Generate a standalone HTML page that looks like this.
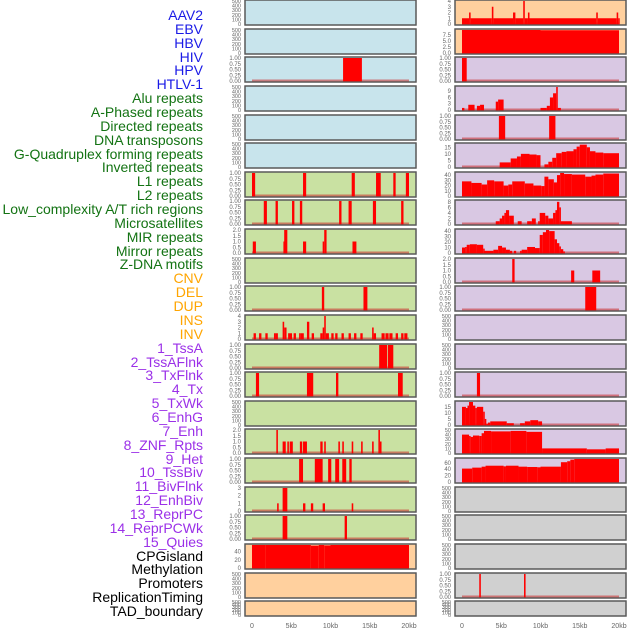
<!DOCTYPE html>
<html><head><meta charset="utf-8">
<style>
html,body{margin:0;padding:0;background:#fff;}
#wrap{position:relative;width:630px;height:630px;overflow:hidden;font-family:"Liberation Sans",sans-serif;}
.lab{position:absolute;right:427px;font-size:14px;line-height:14px;white-space:nowrap;}
</style></head>
<body>
<div id="wrap">
<svg id="svg" width="630" height="630" style="position:absolute;left:0;top:0"></svg>
</div>
<script>
// ---- labels ----
const labelNames = ["AAV2","EBV","HBV","HIV","HPV","HTLV-1","Alu repeats","A-Phased repeats","Directed repeats","DNA transposons","G-Quadruplex forming repeats","Inverted repeats","L1 repeats","L2 repeats","Low_complexity A/T rich regions","Microsatellites","MIR repeats","Mirror repeats","Z-DNA motifs","CNV","DEL","DUP","INS","INV","1_TssA","2_TssAFlnk","3_TxFlnk","4_Tx","5_TxWk","6_EnhG","7_Enh","8_ZNF_Rpts","9_Het","10_TssBiv","11_BivFlnk","12_EnhBiv","13_ReprPC","14_ReprPCWk","15_Quies","CPGisland","Methylation","Promoters","ReplicationTiming","TAD_boundary"];
const labelGroups = [6,13,5,15,5];
const groupColors = ["#1a1ae6","#137313","#ffa500","#9b30e8","#000000"];

// ---- panel data (start kb, end kb, value) ----
const L2 = [[11.6,14.0,1]];
const L6 = [[0,0.4,1],[6.5,6.9,1],[12.7,13.1,1],[15.8,16.4,1],[18.0,18.3,1],[19.6,20,1]];
const L7 = [[1.5,1.9,1],[3.0,3.3,1],[5.1,5.4,1],[6.1,6.4,1],[11.1,11.4,1],[12.3,12.7,1],[15.4,15.8,1],[19.0,19.3,1]];
const L8 = [[0.1,0.5,1],[4.0,4.1,1],[4.1,4.5,2],[6.5,6.9,1],[9.0,9.2,1],[9.2,9.5,2],[12.8,13.3,1]];
const L10 = [[8.9,9.2,1],[14.2,14.7,1]];
const L11 = [[0.2,0.5,1],[0.9,1.2,1],[1.7,2.0,1],[2.8,3.0,1],[3.0,3.3,1],[3.9,4.1,3],[4.1,4.4,2],[4.6,5.1,1],[5.3,5.6,1],[6.0,6.2,1],[6.2,6.6,1],[7.0,7.3,3],[7.6,7.9,1],[8.7,9.0,1],[9.0,9.2,2],[9.2,9.4,4],[9.4,9.8,1],[10.1,10.4,1],[10.6,10.9,1],[11.4,11.7,1],[12.3,12.6,1],[13.0,13.3,1],[13.8,14.1,1],[15.3,15.5,2],[15.5,15.8,1],[16.5,16.9,1],[17.0,17.4,1],[17.5,17.9,1],[18.3,18.6,1],[19.0,19.3,1],[19.4,19.8,1]];
const L12 = [[16.2,17.2,1],[17.3,18.0,1]];
const L13 = [[0.5,0.9,1],[7.0,7.8,1],[10.7,11.0,1],[18.6,19.2,1]];
const L15 = [[3.1,3.3,2],[3.9,4.3,1],[4.5,4.7,1],[4.8,5.2,1],[6.1,6.4,1],[6.5,7.0,1],[8.7,9.0,1],[9.2,9.4,1],[11.0,11.2,1],[11.5,11.7,1],[12.7,12.9,1],[13.9,14.1,1],[15.3,15.5,1],[16.1,16.3,2],[16.3,16.5,1]];
const L16 = [[6.0,6.5,1],[8.0,9.0,1],[9.7,10.1,1],[10.6,11.1,1],[11.5,12.0,1],[12.4,12.7,1]];
const L17 = [[3.2,3.4,1],[3.9,4.5,3],[6.5,6.8,1],[7.5,7.8,1],[9.0,9.3,1],[12.7,12.9,1]];
const L18 = [[3.9,4.5,1],[11.8,12.1,1]];
const L19 = [[0,1.7,57],[1.7,7.5,56],[7.5,8.5,54.5],[8.5,9.2,56],[9.2,10.0,55],[10.0,20,56]];
const R0 = [[0,0.9,1],[0.9,1.1,2],[1.1,3.8,1],[3.8,4.0,3],[4.0,6.5,1],[6.5,6.8,2],[6.8,7.8,1],[7.8,8.0,4],[8.0,8.4,1],[8.4,8.6,2],[8.6,17.1,1],[17.1,17.3,2],[17.3,19.7,1],[19.7,19.9,2],[19.9,20,1]];
const R1 = [[0,10,10],[10,20,9.5]];
const R2 = [[0,0.6,1]];
const R3 = [[0,0.3,1],[0.8,1.6,2.5],[1.9,2.3,2],[2.3,2.8,2.5],[4.3,4.6,4],[4.6,5.3,5],[10,10.8,1],[10.8,11.2,2],[11.2,11.6,6],[11.6,12.0,8],[12.0,12.2,11],[12.2,12.6,1]];
const R4 = [[4.7,5.5,1],[11.1,11.9,1]];
const R5 = [[4.8,6.2,3.5],[6.2,7,6.5],[7,7.5,8],[7.5,8.6,10],[8.6,9.5,9.5],[9.5,10,9],[10.5,11,2],[11,11.5,4],[11.5,12,7],[12,12.7,10.5],[12.7,13.3,11.5],[13.3,14.2,12],[14.2,14.6,13.5],[14.6,15,15.5],[15,15.9,17],[15.9,16.3,15],[16.3,17,12],[17,18,11],[18,20,10.5]];
const R6 = [[0,1.2,28],[1.2,2.5,25],[2.5,3.2,22],[3.2,4.1,30],[4.1,5.3,28],[5.3,5.9,20],[5.9,6.4,22],[6.4,8,28],[8,9.1,24],[9.1,10.1,20],[10.1,10.5,19],[10.5,11,37],[11,11.7,32],[11.7,12.1,26],[12.1,12.5,40],[12.5,13,44],[13,14,42],[14,15.7,41],[15.7,16.5,37],[16.5,17,39],[17,18,41],[18,20,43]];
const R7 = [[4.3,4.8,1],[4.8,5.1,2],[5.1,5.4,3],[5.4,5.6,4],[5.6,6.0,5],[6.0,6.6,3],[7.1,7.6,1],[8.3,8.9,1],[8.9,9.4,2],[9.7,9.9,1],[9.9,10.6,4],[10.6,11,3],[11,11.6,2],[11.6,11.9,4],[11.9,12.1,5],[12.1,12.4,8],[12.4,12.6,6],[12.6,14,1]];
const R8 = [[0,0.4,10],[0.4,0.6,11],[0.6,1,15],[1,1.9,16],[1.9,2.7,15],[2.7,2.8,8],[2.8,4,4],[4,4.6,6],[4.6,5.1,13],[5.1,5.6,10],[5.6,6.1,6],[6.1,6.4,4],[6.6,6.9,4],[7.4,7.6,4],[7.6,8.3,6],[8.3,9.3,11],[9.3,9.9,9],[9.9,10.3,33],[10.3,10.7,38],[10.7,11.1,42],[11.1,11.8,40],[11.8,12.1,25],[12.1,12.4,18],[12.4,12.6,12],[12.6,12.9,7],[12.9,13.1,3]];
const R9 = [[6.4,6.7,2],[13.9,14.3,1],[16.6,17.6,1]];
const R10 = [[15.7,17.1,1]];
const R13 = [[1.9,2.3,1]];
const R14 = [[0,0.5,15],[0.5,0.7,14],[0.7,0.9,16],[0.9,1.4,19],[1.4,1.7,16],[1.7,1.9,14],[1.9,2.7,15],[2.7,2.9,11],[2.9,3.1,5],[3.1,3.3,1],[3.3,3.6,2],[3.6,5.7,3],[5.7,6.6,1.5],[7.4,8,1.5],[8,8.7,3],[8.7,9.7,4],[9.7,10.2,3]];
const R15 = [[0,0.9,40],[0.9,1.1,37],[1.1,1.4,35],[1.4,2.2,38],[2.2,2.5,37],[2.5,2.8,43],[2.8,3.7,48],[3.7,6.2,47],[6.2,8.2,48],[8.2,10.2,46],[10.2,15.9,10],[15.9,18.3,8],[18.3,20,10]];
const R16 = [[0,1.3,42],[1.3,2.5,45],[2.5,3,48],[3,5.3,51],[5.3,5.6,49],[5.6,7.2,51],[7.2,8.3,48],[8.3,9.6,47],[9.6,10,46],[10,12.6,48],[12.6,13.4,62],[13.4,13.8,65],[13.8,14.3,70],[14.3,20,72]];
const R20 = [[2.2,2.4,1],[7.9,8.1,1]];

// tick label arrays
const tEmpty = ["0","100","200","300","400","500"];
const tBin = ["0.00","0.25","0.50","0.75","1.00"];
const xTickLabels = ["0","5kb","10kb","15kb","20kb"];
const xTickValues = [0,5,10,15,20];

const C_BLUE="#c8e4ec", C_GREEN="#c9e1a2", C_ORANGE="#ffd09e", C_PURPLE="#d9c8e3", C_GREY="#d0d0d0";
const leftPanels = [
 [null,500,[0,100,200,300,400,500],tEmpty,C_BLUE,false],
 [null,500,[0,100,200,300,400,500],tEmpty,C_BLUE,false],
 [L2,1,[0,.25,.5,.75,1],tBin,C_BLUE,true],
 [null,500,[0,100,200,300,400,500],tEmpty,C_BLUE,false],
 [null,500,[0,100,200,300,400,500],tEmpty,C_BLUE,false],
 [null,500,[0,100,200,300,400,500],tEmpty,C_BLUE,false],
 [L6,1,[0,.25,.5,.75,1],tBin,C_GREEN,true],
 [L7,1,[0,.25,.5,.75,1],tBin,C_GREEN,true],
 [L8,2,[0,.5,1,1.5,2],["0.0","0.5","1.0","1.5","2.0"],C_GREEN,true],
 [null,500,[0,100,200,300,400,500],tEmpty,C_GREEN,false],
 [L10,1,[0,.25,.5,.75,1],tBin,C_GREEN,true],
 [L11,4,[0,1,2,3,4],["0","1","2","3","4"],C_GREEN,true],
 [L12,1,[0,.25,.5,.75,1],tBin,C_GREEN,true],
 [L13,1,[0,.25,.5,.75,1],tBin,C_GREEN,true],
 [null,500,[0,100,200,300,400,500],tEmpty,C_GREEN,false],
 [L15,2,[0,.5,1,1.5,2],["0.0","0.5","1.0","1.5","2.0"],C_GREEN,true],
 [L16,1,[0,.25,.5,.75,1],tBin,C_GREEN,true],
 [L17,3,[0,1,2,3],["0","1","2","3"],C_GREEN,true],
 [L18,1,[0,.25,.5,.75,1],tBin,C_GREEN,true],
 [L19,56,[0,20,40],["0","20","40"],C_ORANGE,false],
 [null,500,[0,100,200,300,400,500],tEmpty,C_ORANGE,false],
 [null,500,[0,100,200,300,400,500],tEmpty,C_ORANGE,false]
];
const rightPanels = [
 [R0,4,[0,1,2,3,4],["0","1","2","3","4"],C_ORANGE,true],
 [R1,9.6,[0,2.5,5,7.5],["0.0","2.5","5.0","7.5"],C_ORANGE,false],
 [R2,1,[0,.25,.5,.75,1],tBin,C_PURPLE,true],
 [R3,11,[0,3,6,9],["0","3","6","9"],C_PURPLE,true],
 [R4,1,[0,.25,.5,.75,1],tBin,C_PURPLE,true],
 [R5,17.5,[0,5,10,15],["0","5","10","15"],C_PURPLE,true],
 [R6,44,[0,10,20,30,40],["0","10","20","30","40"],C_PURPLE,true],
 [R7,8.3,[0,2,4,6,8],["0","2","4","6","8"],C_PURPLE,true],
 [R8,42,[0,10,20,30,40],["0","10","20","30","40"],C_PURPLE,true],
 [R9,2,[0,.5,1,1.5,2],["0.0","0.5","1.0","1.5","2.0"],C_PURPLE,true],
 [R10,1,[0,.25,.5,.75,1],tBin,C_PURPLE,true],
 [null,500,[0,100,200,300,400,500],tEmpty,C_PURPLE,false],
 [null,500,[0,100,200,300,400,500],tEmpty,C_PURPLE,false],
 [R13,1,[0,.25,.5,.75,1],tBin,C_PURPLE,true],
 [R14,19,[0,5,10,15],["0","5","10","15"],C_PURPLE,true],
 [R15,50,[0,10,20,30,40,50],["0","10","20","30","40","50"],C_PURPLE,true],
 [R16,72,[0,20,40,60],["0","20","40","60"],C_PURPLE,true],
 [null,500,[0,100,200,300,400,500],tEmpty,C_GREY,false],
 [null,500,[0,100,200,300,400,500],tEmpty,C_GREY,false],
 [null,500,[0,100,200,300,400,500],tEmpty,C_GREY,false],
 [R20,1,[0,.25,.5,.75,1],tBin,C_GREY,true],
 [null,500,[0,100,200,300,400,500],tEmpty,C_GREY,false]
];

const NS="http://www.w3.org/2000/svg";
const svg=document.getElementById('svg');
function mk(tag,attrs,parent){const e=document.createElementNS(NS,tag);for(const k in attrs)e.setAttribute(k,attrs[k]);(parent||svg).appendChild(e);return e;}

function drawPanel(cfg,col,row){
  const [data,ymax,tv,tl,bg,base]=cfg;
  const px = col===0?245:455;
  const W=171;
  const T=Math.round(row*28.63);
  const H= row===21?15:25;
  const x0=px+7, x1=px+164;
  const xs=v=>x0+(v/20)*(x1-x0);
  const yb=T+H-1, yt=T+1;
  const ys=v=>yb-(Math.min(v,ymax)/ymax)*(yb-yt);
  const g=mk('g',{});
  
  
  const r=mk('rect',{x:px,y:T,width:W,height:H,fill:bg,stroke:'#5a5a5a','stroke-width':1.3},g);
  
  
  const fs = tl.length>=6?5.5:6;
  tv.forEach((v,i)=>{
    const t=mk('text',{x:px-4,y:ys(v)+2,'font-size':fs,fill:'#666','text-anchor':'end','font-family':'Liberation Sans, sans-serif'},g);
    t.textContent=tl[i];
    
    
  });
  if(base){
    const l=mk('line',{x1:xs(0),x2:xs(20),y1:yb-0.5,y2:yb-0.5,stroke:'rgba(200,40,40,0.55)','stroke-width':2},g);
    
    
  }
  if(data){
    data.forEach(d=>{
      const b=mk('rect',{x:xs(d[0]),y:ys(d[2]),width:Math.max(xs(d[1])-xs(d[0]),1.5),height:yb-ys(d[2])+0.5,fill:'#ff0000'},g);
      
      
    });
  }
  mk('rect',{x:px,y:T,width:W,height:H,fill:'none',stroke:'#5a5a5a','stroke-width':1.3},g);
}
leftPanels.forEach((c,i)=>drawPanel(c,0,i));
rightPanels.forEach((c,i)=>drawPanel(c,1,i));

[0,1].forEach(col=>{
  const px=col===0?245:455, x0=px+7, x1=px+164;
  xTickValues.forEach((v,i)=>{
    const t=mk('text',{x:x0+(v/20)*(x1-x0),y:628,'font-size':7,fill:'#666','text-anchor':'middle','font-family':'Liberation Sans, sans-serif'});
    t.textContent=xTickLabels[i];
    
    
  });
});

const wrap=document.getElementById('wrap');
let idx=0;
labelGroups.forEach((n,gi)=>{
  for(let k=0;k<n;k++){
    const d=document.createElement('div');
    d.className='lab';
    d.style.top=(8+idx*13.86)+'px';
    d.style.color=groupColors[gi];
    d.textContent=labelNames[idx];
    
    
    wrap.appendChild(d);
    idx++;
  }
});
</script>
</body></html>
